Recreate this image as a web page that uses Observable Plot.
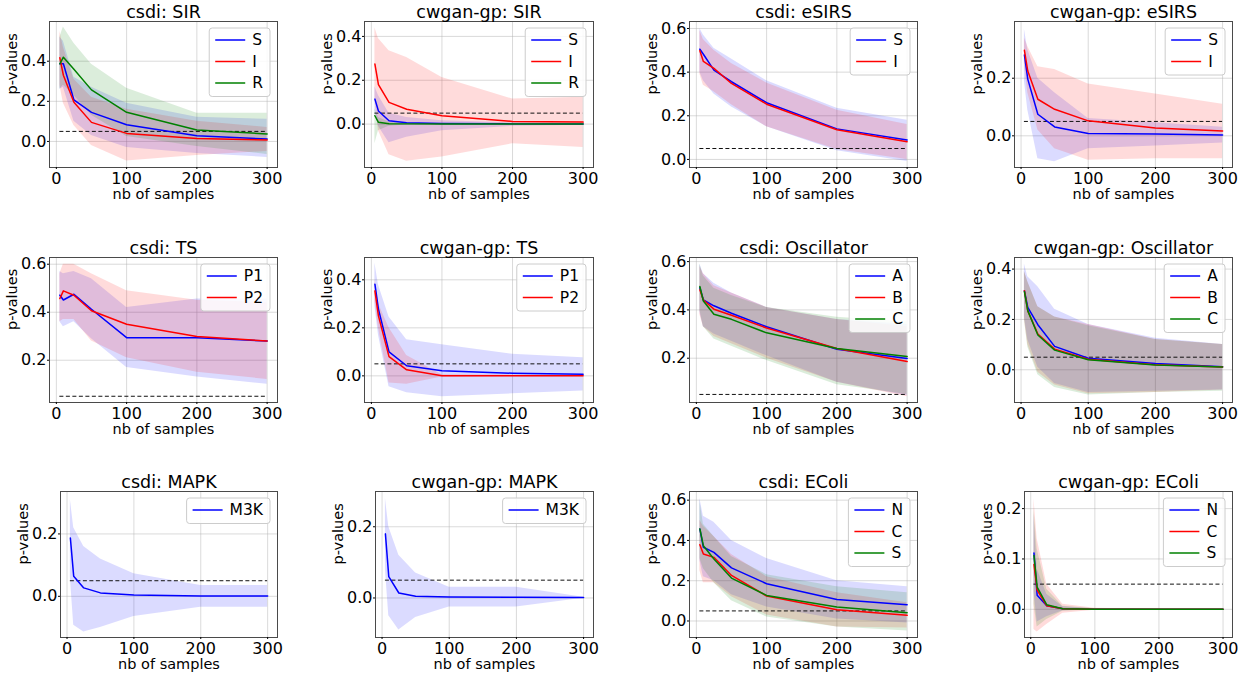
<!DOCTYPE html>
<html><head><meta charset="utf-8">
<script src="https://cdn.jsdelivr.net/npm/d3@7"></script>
<script src="https://cdn.jsdelivr.net/npm/@observablehq/plot@0.6"></script>
<style>
body{margin:0;background:#fff;}
#root{position:relative;width:1258px;height:677px;overflow:hidden;background:#fff;font-family:"DejaVu Sans",sans-serif;}
#root svg{position:absolute;overflow:visible;}
</style></head><body><div id="root"></div><script>
// ---------- data ----------
const X = [5, 10, 25, 50, 100, 200, 300];
const THRESHOLD = 0.05;
const XTICKS = [0, 100, 200, 300];
const COLORS = ["#0000ff", "#ff0000", "#008000"];

// csdi: SIR
const csdiSIR_names = ["S", "I", "R"];
const csdiSIR_mean = [[0.387,0.387,0.207,0.145,0.083,0.028,0.012],[0.417,0.33,0.195,0.095,0.04,0.015,0.007],[0.387,0.42,0.36,0.257,0.145,0.057,0.037]];
const csdiSIR_hi = [[0.52,0.50,0.32,0.27,0.19,0.12,0.11],[0.55,0.47,0.31,0.22,0.16,0.10,0.07],[0.52,0.57,0.49,0.385,0.265,0.14,0.14]];
const csdiSIR_lo = [[0.26,0.27,0.10,0.03,-0.03,-0.06,-0.08],[0.28,0.19,0.08,-0.02,-0.097,-0.07,-0.05],[0.26,0.28,0.23,0.13,0.025,-0.025,-0.065]];
// cwgan-gp: SIR
const cwganSIR_names = ["S", "I", "R"];
const cwganSIR_mean = [[0.114,0.06,0.015,0.006,0.003,0.001,0.001],[0.274,0.18,0.099,0.068,0.038,0.012,0.009],[0.038,0.008,0.002,0.001,0,0,0]];
const cwganSIR_hi = [[0.17,0.13,0.05,0.03,0.015,0.006,0.005],[0.44,0.39,0.335,0.304,0.213,0.114,0.122],[0.07,0.03,0.01,0.004,0.001,0,0]];
const cwganSIR_lo = [[0.06,-0.01,-0.085,-0.06,-0.03,-0.01,-0.005],[0.11,-0.03,-0.14,-0.17,-0.15,-0.09,-0.107],[-0.09,-0.03,-0.01,-0.004,-0.001,0,0]];
// csdi: eSIRS
const csdiESIRS_names = ["S", "I"];
const csdiESIRS_mean = [[0.505,0.482,0.409,0.356,0.26,0.14,0.089],[0.498,0.449,0.417,0.348,0.253,0.136,0.081]];
const csdiESIRS_hi = [[0.60,0.57,0.51,0.46,0.36,0.235,0.18],[0.59,0.55,0.50,0.44,0.35,0.225,0.16]];
const csdiESIRS_lo = [[0.40,0.36,0.30,0.24,0.15,0.04,-0.01],[0.39,0.34,0.31,0.25,0.15,0.045,0.0]];
// cwgan-gp: eSIRS
const cwganESIRS_names = ["S", "I"];
const cwganESIRS_mean = [[0.281,0.197,0.075,0.031,0.008,0.006,0.003],[0.297,0.225,0.127,0.092,0.052,0.027,0.017]];
const cwganESIRS_hi = [[0.37,0.30,0.20,0.15,0.06,0.045,0.03],[0.34,0.31,0.24,0.23,0.18,0.145,0.11]];
const cwganESIRS_lo = [[0.19,0.09,-0.08,-0.09,-0.045,-0.035,-0.025],[0.25,0.15,0.02,-0.045,-0.085,-0.08,-0.08]];
// csdi: TS
const csdiTS_names = ["P1", "P2"];
const csdiTS_mean = [[0.471,0.451,0.475,0.4125,0.294,0.294,0.28],[0.457,0.489,0.471,0.406,0.35,0.299,0.28]];
const csdiTS_hi = [[0.57,0.56,0.57,0.54,0.42,0.455,0.455],[0.56,0.60,0.60,0.56,0.49,0.45,0.44]];
const csdiTS_lo = [[0.36,0.34,0.36,0.29,0.17,0.13,0.10],[0.36,0.37,0.37,0.28,0.21,0.15,0.12]];
// cwgan-gp: TS
const cwganTS_names = ["P1", "P2"];
const cwganTS_mean = [[0.382,0.278,0.10,0.042,0.021,0.011,0.007],[0.354,0.25,0.08,0.025,0.0,0.0,0.0]];
const cwganTS_hi = [[0.47,0.38,0.245,0.15,0.13,0.09,0.075],[0.40,0.30,0.20,0.085,0.005,0.003,0.002]];
const cwganTS_lo = [[0.29,0.17,-0.045,-0.07,-0.087,-0.075,-0.063],[0.31,0.20,-0.03,-0.035,-0.005,-0.003,-0.002]];
// csdi: Oscillator
const csdiOSC_names = ["A", "B", "C"];
const csdiOSC_mean = [[0.492,0.441,0.417,0.386,0.33,0.237,0.199],[0.483,0.441,0.403,0.378,0.325,0.24,0.186],[0.497,0.437,0.382,0.361,0.305,0.24,0.207]];
const csdiOSC_hi = [[0.59,0.55,0.51,0.47,0.41,0.36,0.34],[0.58,0.55,0.50,0.47,0.41,0.36,0.33],[0.59,0.54,0.49,0.46,0.41,0.37,0.35]];
const csdiOSC_lo = [[0.39,0.33,0.30,0.27,0.21,0.10,0.045],[0.38,0.33,0.29,0.26,0.20,0.10,0.04],[0.40,0.33,0.28,0.25,0.19,0.09,0.05]];
// cwgan-gp: Oscillator
const cwganOSC_names = ["A", "B", "C"];
const cwganOSC_mean = [[0.314,0.248,0.179,0.093,0.046,0.025,0.012],[0.314,0.234,0.142,0.082,0.042,0.02,0.011],[0.31,0.235,0.138,0.078,0.04,0.019,0.011]];
const cwganOSC_hi = [[0.42,0.37,0.33,0.24,0.18,0.125,0.10],[0.39,0.35,0.25,0.21,0.18,0.12,0.10],[0.39,0.35,0.25,0.21,0.175,0.12,0.10]];
const cwganOSC_lo = [[0.21,0.12,0.01,-0.055,-0.09,-0.085,-0.08],[0.20,0.10,-0.01,-0.06,-0.095,-0.09,-0.08],[0.20,0.09,-0.02,-0.07,-0.10,-0.09,-0.085]];
// csdi: MAPK
const csdiMAPK_names = ["M3K"];
const csdiMAPK_mean = [[0.187,0.064,0.027,0.011,0.004,0.001,0.001]];
const csdiMAPK_hi = [[0.31,0.22,0.16,0.12,0.072,0.035,0.035]];
const csdiMAPK_lo = [[0.06,-0.093,-0.114,-0.10,-0.065,-0.035,-0.035]];
// cwgan-gp: MAPK
const cwganMAPK_names = ["M3K"];
const cwganMAPK_mean = [[0.18,0.06,0.014,0.005,0.003,0.002,0.001]];
const cwganMAPK_hi = [[0.28,0.20,0.12,0.07,0.03,0.03,0.002]];
const cwganMAPK_lo = [[0.08,-0.05,-0.09,-0.055,-0.025,-0.025,-0.001]];
// csdi: EColi
const csdiECOLI_names = ["N", "C", "S"];
const csdiECOLI_mean = [[0.457,0.366,0.341,0.264,0.185,0.107,0.081],[0.379,0.333,0.316,0.226,0.124,0.056,0.028],[0.457,0.374,0.308,0.213,0.127,0.069,0.041]];
const csdiECOLI_hi = [[0.61,0.52,0.49,0.40,0.31,0.20,0.17],[0.50,0.47,0.42,0.33,0.22,0.14,0.09],[0.60,0.48,0.42,0.32,0.23,0.17,0.14]];
const csdiECOLI_lo = [[0.30,0.22,0.20,0.13,0.07,0.01,-0.01],[0.25,0.19,0.19,0.12,0.03,-0.03,-0.035],[0.31,0.26,0.19,0.10,0.02,-0.03,-0.05]];
// cwgan-gp: EColi
const cwganECOLI_names = ["N", "C", "S"];
const cwganECOLI_mean = [[0.112,0.028,0.007,0.001,0,0,0],[0.089,0.038,0.007,0.001,0,0,0],[0.107,0.044,0.009,0.001,0,0,0]];
const cwganECOLI_hi = [[0.19,0.08,0.03,0.005,0.001,0,0],[0.22,0.14,0.05,0.01,0.002,0,0],[0.20,0.12,0.04,0.006,0.001,0,0]];
const cwganECOLI_lo = [[0.035,-0.025,-0.015,-0.003,-0.001,0,0],[-0.04,-0.045,-0.03,-0.008,-0.002,0,0],[0.01,-0.035,-0.02,-0.004,-0.001,0,0]];

const TITLES = ["csdi: SIR","cwgan-gp: SIR","csdi: eSIRS","cwgan-gp: eSIRS","csdi: TS","cwgan-gp: TS","csdi: Oscillator","cwgan-gp: Oscillator","csdi: MAPK","cwgan-gp: MAPK","csdi: EColi","cwgan-gp: EColi"];
const YTICKS = [[0,0.2,0.4],[0,0.2,0.4],[0,0.2,0.4,0.6],[0,0.2],[0.2,0.4,0.6],[0,0.2,0.4],[0.2,0.4,0.6],[0,0.2,0.4],[0,0.2],[0,0.2],[0,0.2,0.4,0.6],[0,0.1,0.2]];
const XLABEL = "nb of samples";
const YLABEL = "p-values";

// ---------- layout ----------
const panels = [
  {names: csdiSIR_names, mean: csdiSIR_mean, hi: csdiSIR_hi, lo: csdiSIR_lo, ydom: [-0.13, 0.598], frame: [49,277,21,167]},
  {names: cwganSIR_names, mean: cwganSIR_mean, hi: cwganSIR_hi, lo: cwganSIR_lo, ydom: [-0.198, 0.468], frame: [364,593,21,167]},
  {names: csdiESIRS_names, mean: csdiESIRS_mean, hi: csdiESIRS_hi, lo: csdiESIRS_lo, ydom: [-0.037, 0.632], frame: [689,917,21,167]},
  {names: cwganESIRS_names, mean: cwganESIRS_mean, hi: cwganESIRS_hi, lo: cwganESIRS_lo, ydom: [-0.11, 0.397], frame: [1014,1232,21,167]},
  {names: csdiTS_names, mean: csdiTS_mean, hi: csdiTS_hi, lo: csdiTS_lo, ydom: [0.024, 0.628], frame: [49,277,257,402]},
  {names: cwganTS_names, mean: cwganTS_mean, hi: cwganTS_hi, lo: cwganTS_lo, ydom: [-0.111, 0.493], frame: [364,593,257,402]},
  {names: csdiOSC_names, mean: csdiOSC_mean, hi: csdiOSC_hi, lo: csdiOSC_lo, ydom: [0.0166, 0.617], frame: [689,917,257,402]},
  {names: cwganOSC_names, mean: cwganOSC_mean, hi: cwganOSC_hi, lo: cwganOSC_lo, ydom: [-0.13, 0.446], frame: [1014,1232,257,402]},
  {names: csdiMAPK_names, mean: csdiMAPK_mean, hi: csdiMAPK_hi, lo: csdiMAPK_lo, ydom: [-0.132, 0.336], frame: [60,277,491,637]},
  {names: cwganMAPK_names, mean: cwganMAPK_mean, hi: cwganMAPK_hi, lo: cwganMAPK_lo, ydom: [-0.111, 0.299], frame: [375,593,491,637]},
  {names: csdiECOLI_names, mean: csdiECOLI_mean, hi: csdiECOLI_hi, lo: csdiECOLI_lo, ydom: [-0.082, 0.643], frame: [689,917,491,637]},
  {names: cwganECOLI_names, mean: cwganECOLI_mean, hi: cwganECOLI_hi, lo: cwganECOLI_lo, ydom: [-0.056, 0.234], frame: [1024,1232,491,637]}
];

const root = document.getElementById("root");
const ML = 60, MR = 10, MT = 30, MB = 45;

function addLegend(svg, names, fw) {
  const n = names.length;
  const g = d3.select(svg).append("g").attr("font-family", "DejaVu Sans").attr("font-size", 15.5).attr("text-anchor", "start");
  const rect = g.append("rect");
  const texts = names.map(nm => g.append("text").text(nm).attr("text-anchor", "start").attr("dominant-baseline", "central").attr("fill", "#000"));
  const tw = d3.max(texts, t => t.node().getComputedTextLength());
  const bw = 43 + tw + 7, bh = n * 21.5 + 4;
  const bx = ML + fw - 7 - bw, by = MT + 7;
  rect.attr("x", bx).attr("y", by).attr("width", bw).attr("height", bh).attr("rx", 3)
      .attr("fill", "white").attr("fill-opacity", 0.85).attr("stroke", "#cccccc");
  names.forEach((nm, i) => {
    const cy = by + 12 + i * 21.5;
    g.append("line").attr("x1", bx + 6).attr("x2", bx + 36).attr("y1", cy).attr("y2", cy)
      .attr("stroke", COLORS[i]).attr("stroke-width", 1.5);
    texts[i].attr("x", bx + 43).attr("y", cy);
  });
}

panels.forEach((p, k) => {
  const [L, R, T, B] = p.frame;
  const fw = R - L, fh = B - T;
  const rows = [];
  p.names.forEach((nm, i) => X.forEach((x, j) => rows.push({x, y: p.mean[i][j], lo: p.lo[i][j], hi: p.hi[i][j], s: nm})));
  const yt = YTICKS[k];
  const svg = Plot.plot({
    width: fw + ML + MR, height: fh + MT + MB,
    marginLeft: ML, marginRight: MR, marginTop: MT, marginBottom: MB,
    style: {background: "transparent", fontFamily: "DejaVu Sans", fontSize: "16px", color: "#000", overflow: "visible"},
    x: {domain: [-9.75, 314.75]},
    y: {domain: p.ydom},
    color: {domain: p.names, range: COLORS.slice(0, p.names.length)},
    marks: [
      Plot.gridX(XTICKS, {stroke: "#b0b0b0", strokeOpacity: 0.6, strokeWidth: 0.8}),
      Plot.gridY(yt, {stroke: "#b0b0b0", strokeOpacity: 0.6, strokeWidth: 0.8}),
      Plot.areaY(rows, {x: "x", y1: "lo", y2: "hi", z: "s", fill: "s", fillOpacity: 0.14, clip: true}),
      Plot.ruleY([THRESHOLD], {x1: X[0], x2: X[X.length - 1], stroke: "#111", strokeWidth: 1, strokeDasharray: "4,2.5"}),
      Plot.lineY(rows, {x: "x", y: "y", z: "s", stroke: "s", strokeWidth: 1.5}),
      Plot.frame({stroke: "#4a4a4a", strokeWidth: 1}),
      Plot.axisX(XTICKS, {tickSize: 2, tickPadding: 3, fontSize: 16, label: null}),
      Plot.axisY(yt, {tickSize: 2, tickPadding: 1, fontSize: 16, tickFormat: d3.format(".1f"), label: null}),
      Plot.text([TITLES[k]], {frameAnchor: "top", lineAnchor: "middle", dy: -9, fontSize: 17.5, fill: "#000"}),
      Plot.text([XLABEL], {frameAnchor: "bottom", lineAnchor: "middle", dy: 27, fontSize: 14.5, fill: "#000"}),
      Plot.text([YLABEL], {frameAnchor: "left", lineAnchor: "middle", dx: -37, rotate: -90, fontSize: 14.5, fill: "#000"})
    ]
  });
  svg.style.left = (L - ML) + "px";
  svg.style.top = (T - MT) + "px";
  root.appendChild(svg);
  addLegend(svg, p.names, fw);
});
</script></body></html>
